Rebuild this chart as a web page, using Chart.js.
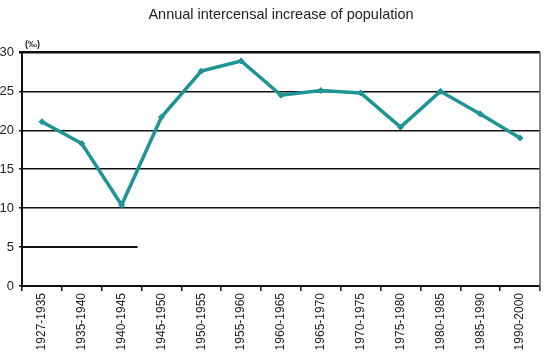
<!DOCTYPE html>
<html>
<head>
<meta charset="utf-8">
<script src="https://cdn.jsdelivr.net/npm/chart.js@4"></script>
<style>
  html, body { margin: 0; padding: 0; background: #fff; }
  #wrap { width: 549px; height: 356px; }
</style>
</head>
<body>
<div id="wrap"><canvas id="myChart"></canvas></div>
<script>
let periods = ['1927-1935', '1935-1940', '1940-1945', '1945-1950', '1950-1955', '1955-1960', '1960-1965',
               '1965-1970', '1970-1975', '1975-1980', '1980-1985', '1985-1990', '1990-2000'];
let increase = [21.1, 18.3, 10.4, 21.7, 27.6, 28.9, 24.5, 25.1, 24.8, 20.4, 25.0, 22.1, 19.0];
let yTicks = [0, 5, 10, 15, 20, 25, 30];

let ctx = document.getElementById('myChart');

// frame on the right, unit label, and the short line at 5
let extras = {
  id: 'extras',
  afterDraw(chart) {
    let c = chart.ctx;
    let a = chart.chartArea;
    let x = chart.scales.x, y = chart.scales.y;
    c.save();
    c.strokeStyle = '#666';
    c.lineWidth = 1.5;
    c.beginPath();
    c.moveTo(a.right, a.top);
    c.lineTo(a.right, a.bottom + 4);
    c.stroke();

    c.strokeStyle = '#111';
    c.lineWidth = 2;
    c.beginPath();
    c.moveTo(a.left, y.getPixelForValue(5));
    c.lineTo(x.getPixelForValue(2.4), y.getPixelForValue(5));
    c.stroke();

    c.fillStyle = '#222';
    c.font = 'bold 9px "Liberation Sans", Arial, sans-serif';
    c.textAlign = 'left';
    c.textBaseline = 'middle';
    c.fillText('(\u2030)', a.left + 3, a.top - 8);
    c.restore();
  }
};

let chart_temp = {
  type: 'line',
  data: {
    labels: periods,
    datasets: [{
      label: 'Annual intercensal increase',
      data: increase,
      borderColor: '#1f9494',
      backgroundColor: '#1f9494',
      borderWidth: 3.5,
      pointStyle: 'rectRot',
      pointRadius: 3,
      pointBorderWidth: 1,
      tension: 0
    }]
  },
  options: {
    responsive: true,
    maintainAspectRatio: false,
    animation: false,
    layout: { padding: { top: 0, right: 9, left: 0, bottom: 0 } },
    plugins: {
      legend: { display: false },
      tooltip: { enabled: false },
      title: {
        display: true,
        fullSize: false,
        text: 'Annual intercensal increase of population',
        color: '#222',
        font: { family: '"Liberation Sans", Arial, sans-serif', size: 14.5, weight: 'normal' },
        padding: { top: 6, bottom: 29 }
      }
    },
    scales: {
      x: {
        offset: true,
        grid: {
          offset: true,
          drawOnChartArea: false,
          drawTicks: true,
          tickLength: 5,
          color: '#111',
          lineWidth: 1.5
        },
        border: { color: '#111', width: 2 },
        ticks: {
          autoSkip: false,
          maxRotation: 90,
          minRotation: 90,
          padding: 2,
          color: '#222',
          font: { family: '"Liberation Sans", Arial, sans-serif', size: 12 }
        },
        afterFit(scale) { scale.height = 70; }
      },
      y: {
        min: 0,
        max: 30,
        afterBuildTicks(scale) { scale.ticks = yTicks.map(v => ({ value: v })); },
        grid: {
          color: ctx => (ctx.tick && ctx.tick.value === 5) ? 'rgba(0,0,0,0)' : '#111',
          lineWidth: ctx => (ctx.tick && ctx.tick.value === 30) ? 2.5 : 1.5,
          tickLength: 3,
          tickColor: '#111'
        },
        border: { color: '#111', width: 2 },
        ticks: {
          padding: 5,
          color: '#222',
          font: { family: '"Liberation Sans", Arial, sans-serif', size: 13 }
        },
        afterFit(scale) { scale.width = 22; }
      }
    }
  },
  plugins: [extras]
};

const myChart = new Chart(ctx, chart_temp);
</script>
</body>
</html>
